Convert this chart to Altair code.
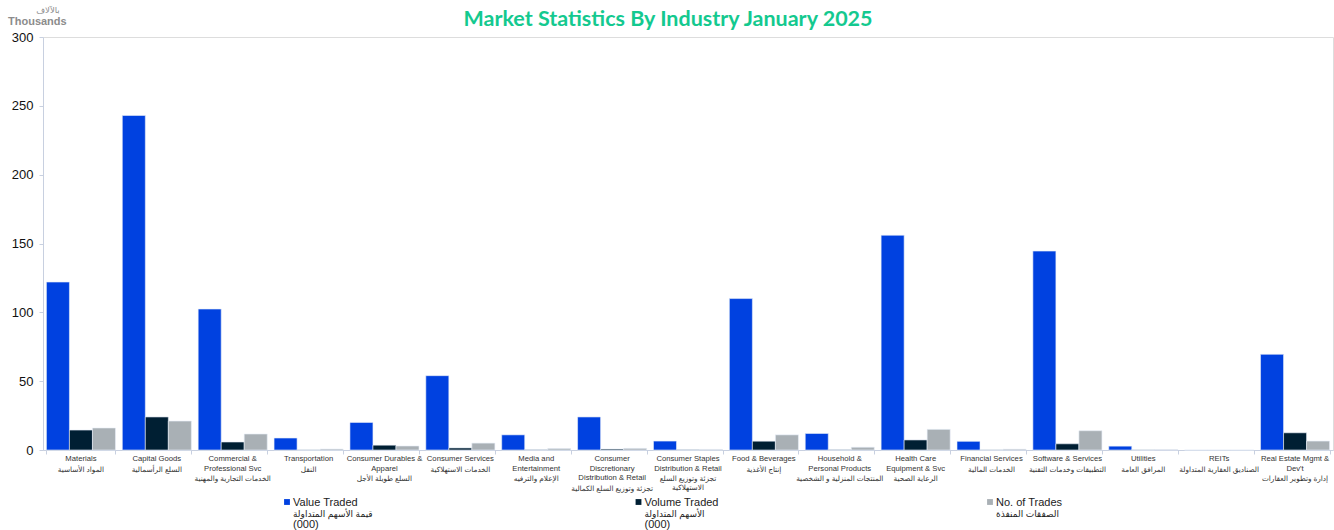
import altair as alt
import pandas as pd

categories = [
    "Materials", "Capital Goods", "Commercial & Professional Svc", "Transportation",
    "Consumer Durables & Apparel", "Consumer Services", "Media and Entertainment",
    "Consumer Discretionary Distribution & Retail", "Consumer Staples Distribution & Retail",
    "Food & Beverages", "Household & Personal Products", "Health Care Equipment & Svc",
    "Financial Services", "Software & Services", "Utilities", "REITs",
    "Real Estate Mgmt & Dev't",
]
label_en = [
    "Materials", "Capital Goods", "Commercial &|Professional Svc", "Transportation",
    "Consumer Durables &|Apparel", "Consumer Services", "Media and|Entertainment",
    "Consumer|Discretionary|Distribution & Retail", "Consumer Staples|Distribution & Retail",
    "Food & Beverages", "Household &|Personal Products", "Health Care|Equipment & Svc",
    "Financial Services", "Software & Services", "Utilities", "REITs",
    "Real Estate Mgmt &|Dev't",
]
label_ar = [
    "المواد الأساسية", "السلع الرأسمالية", "الخدمات التجارية والمهنية", "النقل",
    "السلع طويلة الأجل", "الخدمات الاستهلاكية", "الإعلام والترفيه",
    "تجزئة وتوزيع السلع الكمالية", "تجزئة وتوزيع السلع|الاستهلاكية",
    "إنتاج الأغذية", "المنتجات المنزلية و الشخصية", "الرعاية الصحية",
    "الخدمات المالية", "التطبيقات وخدمات التقنية", "المرافق العامة",
    "الصناديق العقارية المتداولة", "إدارة وتطوير العقارات",
]
value_traded = [122, 243, 102.4, 8.7, 20, 54, 11, 24, 6.5, 110, 12, 156, 6.3, 144.5, 2.8, 0, 69.5]
volume_traded = [14.5, 24, 5.8, 0.1, 3.5, 1.5, 0.2, 0.7, 0.2, 6.4, 0.2, 7.3, 0.1, 4.5, 0.1, 0, 12.5]
no_of_trades = [16, 21, 11.6, 0.7, 2.9, 5, 1, 1.2, 0.4, 11, 2, 15, 0.6, 14, 0.3, 0, 6.5]

series = ["Value Traded", "Volume Traded", "No. of Trades"]
series_ar = ["قيمة الأسهم المتداولة", "الأسهم المتداولة", "الصفقات المنفذة"]
series_unit = ["(000)", "(000)", ""]
colors = ["#0041E0", "#001F33", "#A9B0B5"]

rows = []
for i, c in enumerate(categories):
    for s, vals in zip(series, [value_traded, volume_traded, no_of_trades]):
        rows.append({"cat": c, "series": s, "value": vals[i]})
df = pd.DataFrame(rows)
lab = pd.DataFrame({
    "cat": categories, "en": label_en, "ar": label_ar,
    "n": [len(e.split("|")) for e in label_en],
})
leg = pd.DataFrame({"series": series, "ar": series_ar, "unit": series_unit})

W, H = 1290, 413
FONT = "Liberation Sans, Arial, DejaVu Sans"
color_scale = alt.Scale(domain=series, range=colors)
cat_scale = alt.Scale(paddingInner=0.09, paddingOuter=0.045)

bars = alt.Chart(df).mark_bar(stroke="#E8EEF8", strokeWidth=0.6).encode(
    x=alt.X("cat:N", sort=categories, scale=cat_scale,
            axis=alt.Axis(title=None, labels=False, ticks=True, tickBand="extent",
                          tickSize=4, tickColor="#C8D0E0", domainColor="#C8D0E0")),
    xOffset=alt.XOffset("series:N", sort=series),
    y=alt.Y("value:Q", scale=alt.Scale(domain=[0, 300]),
            axis=alt.Axis(values=[0, 50, 100, 150, 200, 250, 300], grid=False,
                          title=None,
                          labelFontSize=13, labelColor="#111111", labelFont=FONT,
                          tickSize=4, tickColor="#C8D0E0", domainColor="#C8D0E0",
                          labelPadding=6)),
    color=alt.Color("series:N", sort=series, scale=color_scale, legend=None),
)

lab_x = alt.X("cat:N", sort=categories, scale=cat_scale, axis=None)

en_text = alt.Chart(lab).mark_text(
    baseline="top", fontSize=7.7, font=FONT, color="#333333", lineBreak="|", lineHeight=9.5
).encode(x=lab_x, y=alt.value(H + 5), text="en:N")

ar_text = alt.Chart(lab).transform_calculate(
    ay=f"{H + 6} + 9.5 * datum.n"
).mark_text(
    baseline="top", fontSize=7.3, font=FONT, color="#333333", lineBreak="|", lineHeight=9
).encode(x=lab_x, y=alt.Y("ay:Q", scale=None), text="ar:N")

units_title = alt.Chart(pd.DataFrame({"t": ["Thousands"]})).mark_text(
    fontSize=11, font=FONT, fontWeight="bold", color="#8C8C8C", align="left", baseline="middle"
).encode(x=alt.value(-35), y=alt.value(-15), text="t:N")

units_ar = alt.Chart(pd.DataFrame({"t": ["بالآلاف"]})).mark_text(
    fontSize=8.5, font=FONT, color="#8C8C8C", align="center", baseline="middle"
).encode(x=alt.value(5), y=alt.value(-27), text="t:N")

# custom legend built from the series table, positioned by its own point scale
lx = alt.X("series:N", sort=series, axis=None,
           scale=alt.Scale(type="point", range=[244, 947], padding=0))
leg_sym = alt.Chart(leg).mark_point(shape="square", filled=True, size=34, opacity=1).encode(
    x=lx, y=alt.value(H + 52),
    color=alt.Color("series:N", sort=series, scale=color_scale, legend=None))
leg_en = alt.Chart(leg).mark_text(align="left", baseline="middle", dx=6, fontSize=11,
                                  font=FONT, color="#222222").encode(
    x=lx, y=alt.value(H + 53), text="series:N")
leg_ar = alt.Chart(leg).mark_text(align="left", baseline="middle", dx=6, fontSize=9,
                                  font=FONT, color="#222222").encode(
    x=lx, y=alt.value(H + 64), text="ar:N")
leg_unit = alt.Chart(leg).mark_text(align="left", baseline="middle", dx=6, fontSize=11,
                                    font=FONT, color="#222222").encode(
    x=lx, y=alt.value(H + 75), text="unit:N")

legend_layer = alt.layer(leg_sym, leg_en, leg_ar, leg_unit)

chart = alt.layer(bars, en_text, ar_text, units_title, units_ar, legend_layer).resolve_scale(
    x="independent"
).properties(
    width=W, height=H,
    autosize=alt.AutoSizeParams(type="none"),
    padding={"left": 43, "top": 37, "right": 1, "bottom": 80},
    title=alt.Title("Market Statistics By Industry January 2025", color="#14C98F",
                    font="Lato", fontSize=21.5, fontWeight="bold", offset=-24, dx=-20),
).configure_view(stroke=None).configure(background="white")

chart.save("out.html", embed_options={"renderer": "svg", "actions": False})
